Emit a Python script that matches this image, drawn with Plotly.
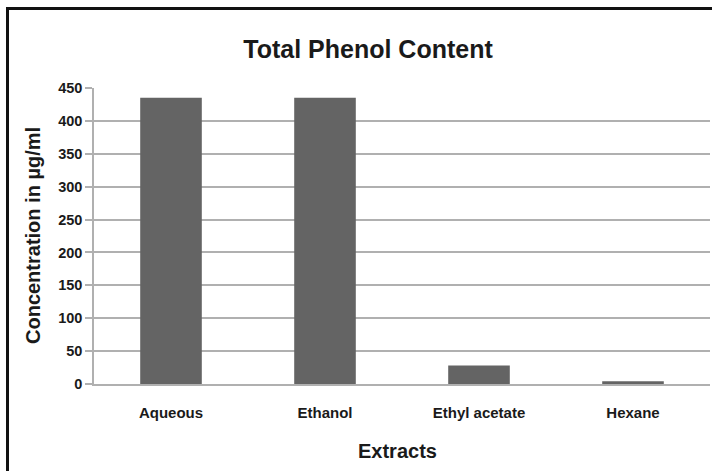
import plotly.graph_objects as go

categories = ["Aqueous", "Ethanol", "Ethyl acetate", "Hexane"]
values = [435, 435, 28, 4]
y_ticks = [0, 50, 100, 150, 200, 250, 300, 350, 400, 450]

W, H = 712, 471
L, R, T, B = 94, 2, 88, 87
pw, ph = W - L - R, H - T - B

def px_x(x):
    return (x - L) / pw

def px_y(y):
    return (H - B - y) / ph

font = "Liberation Sans, Arial, sans-serif"
txt = "#1a1a1a"
grid = "#b0b0b0"

fig = go.Figure(go.Bar(x=categories, y=values, marker=dict(color="#646464", line=dict(width=0)), width=0.4))

fig.update_layout(
    width=W, height=H,
    margin=dict(l=L, r=R, t=T, b=B),
    paper_bgcolor="white", plot_bgcolor="white",
    showlegend=False,
    font=dict(family=font, color=txt),
    title=dict(text="<b>Total Phenol Content</b>", x=368 / W, xanchor="center",
               y=1 - 49 / H, yanchor="middle", font=dict(size=25, family=font, color=txt)),
)
fig.update_xaxes(
    showgrid=False, showline=True, linecolor=grid, linewidth=1.5,
    tickfont=dict(size=15, family=font, color=txt), ticks="", ticklabelstandoff=14,
    tickvals=categories, ticktext=["<b>%s</b>" % c for c in categories],
)
fig.update_yaxes(
    range=[0, 450], tickvals=y_ticks, ticktext=["<b>%d</b>" % v for v in y_ticks],
    showgrid=True, gridcolor=grid, gridwidth=1.5,
    showline=True, linecolor=grid, linewidth=1.5,
    ticks="outside", ticklen=7, tickcolor=grid, tickwidth=1.5,
    tickfont=dict(size=14.5, family=font, color=txt), zeroline=False,
)
fig.add_annotation(text="<b>Concentration in µg/ml</b>", xref="paper", yref="paper",
                   x=px_x(33), y=px_y(236), xanchor="center", yanchor="middle",
                   textangle=-90, showarrow=False,
                   font=dict(size=20, family=font, color=txt))
fig.add_annotation(text="<b>Extracts</b>", xref="paper", yref="paper",
                   x=px_x(397), y=px_y(451), xanchor="center", yanchor="middle",
                   showarrow=False,
                   font=dict(size=20, family=font, color=txt))
fig.add_shape(type="rect", xref="paper", yref="paper",
              x0=px_x(7.5), x1=px_x(740), y0=px_y(500), y1=px_y(8.5),
              line=dict(color="#111111", width=3), fillcolor="rgba(0,0,0,0)", layer="above")

fig.write_html("out.html", config={"displayModeBar": False},
               post_script="document.body.style.margin='0';document.body.style.overflow='hidden';")
